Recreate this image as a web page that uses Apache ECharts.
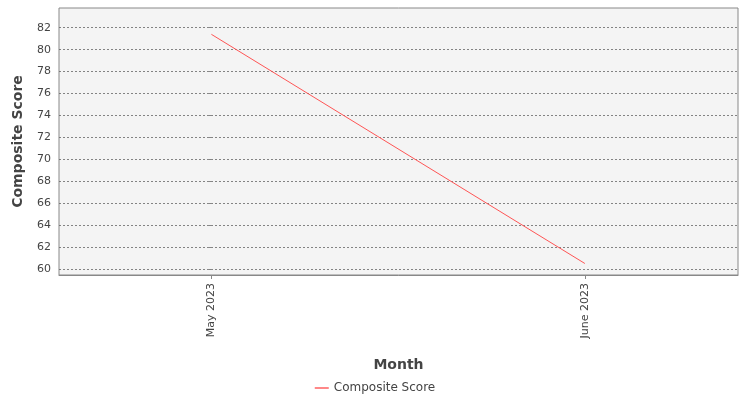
<!DOCTYPE html>
<html><head><meta charset="utf-8">
<script src="https://cdn.jsdelivr.net/npm/echarts@6/dist/echarts.min.js"></script>
<style>html,body{margin:0;padding:0;background:#fff}#c{width:750px;height:400px}</style>
</head><body><div id="c"></div>
<script>
const categories = ['May 2023', 'June 2023'];
const scores = [81.4, 60.5];
const yTicks = [60, 62, 64, 66, 68, 70, 72, 74, 76, 78, 80, 82];

const chart = echarts.init(document.getElementById('c'));
chart.setOption({
  animation: false,
  grid: { left: 59, right: 12, top: 8, bottom: 125, show: true, backgroundColor: '#f4f4f4', borderColor: '#888', borderWidth: 1 },
  xAxis: {
    type: 'value', min: -0.408, max: 1.41,
    name: 'Month', nameLocation: 'middle', nameGap: 83,
    nameTextStyle: { fontFamily: 'DejaVu Sans', fontWeight: 'bold', fontSize: 14, color: '#444' },
    axisLine: { show: true, onZero: false, lineStyle: { color: '#888' } },
    axisTick: { show: true, customValues: [0, 1], length: 4, lineStyle: { color: '#888' } },
    axisLabel: { customValues: [0, 1], rotate: 90, fontFamily: 'DejaVu Sans', fontSize: 11, color: '#444',
      formatter: v => categories[Math.round(v)] },
    splitLine: { show: false }
  },
  yAxis: {
    type: 'value', min: 59.45, max: 83.8,
    name: 'Composite Score', nameLocation: 'middle', nameGap: 34,
    nameTextStyle: { fontFamily: 'DejaVu Sans', fontWeight: 'bold', fontSize: 14, color: '#444' },
    axisLine: { show: false },
    axisTick: { show: true, customValues: yTicks, length: 4, lineStyle: { color: '#888' } },
    axisLabel: { customValues: yTicks, fontFamily: 'DejaVu Sans', fontSize: 11, color: '#444' },
    splitLine: { show: true, lineStyle: { color: '#666', type: [2, 2], width: 0.8 } }
  },
  legend: { bottom: 1, left: 'center', icon: 'path://M0,0 L10,0 L10,1 L0,1 Z', itemWidth: 14, itemHeight: 2,
    textStyle: { fontFamily: 'DejaVu Sans', fontSize: 12, color: '#444' }, data: ['Composite Score'] },
  series: [{
    name: 'Composite Score', type: 'line', symbol: 'none',
    data: scores.map((v, i) => [i, v]),
    lineStyle: { color: '#ff5555', width: 1 }, itemStyle: { color: '#ff5555' }
  }]
});
</script></body></html>
